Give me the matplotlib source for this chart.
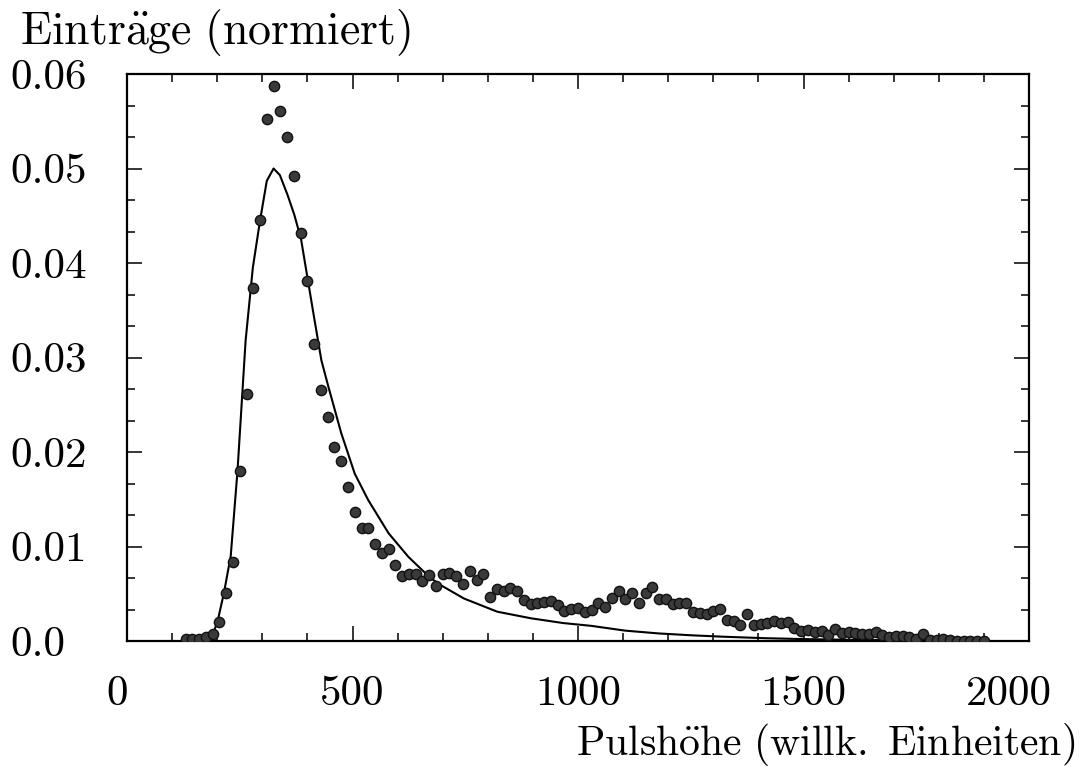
import numpy as np
import matplotlib
matplotlib.use("Agg")
import matplotlib.pyplot as plt
from matplotlib.ticker import MultipleLocator, AutoMinorLocator, FixedLocator, FixedFormatter
import matplotlib.transforms as mtransforms

plt.rcParams['mathtext.fontset'] = 'cm'
plt.rcParams['font.family'] = ['cmr10', 'DejaVu Serif']
plt.rcParams['axes.formatter.use_mathtext'] = True

# ---- data ----
# bin centres of the measured pulse height histogram (bin width 15)
pulse_x = np.arange(130, 1901, 15)
entries = [
    0.0002, 0.0002, 0.00024, 0.0004, 0.0007, 0.0020, 0.0051, 0.0084, 0.0180, 0.0261,
    0.0374, 0.0445, 0.0552, 0.0587, 0.0561, 0.0533, 0.0492, 0.0432, 0.0381, 0.0314,
    0.0266, 0.0237, 0.0205, 0.0190, 0.0163, 0.0136, 0.0120, 0.0120, 0.0103, 0.0093,
    0.0097, 0.0080, 0.0069, 0.0071, 0.0071, 0.0064, 0.0070, 0.0058, 0.0071, 0.0072,
    0.0069, 0.0060, 0.0074, 0.0065, 0.0071, 0.0047, 0.0055, 0.0053, 0.0056, 0.0053,
    0.0043, 0.0039, 0.0040, 0.0041, 0.0042, 0.0038, 0.0032, 0.0034, 0.0035, 0.0031,
    0.0033, 0.0040, 0.0036, 0.0046, 0.0053, 0.0044, 0.0051, 0.0040, 0.0051, 0.0057,
    0.0044, 0.0044, 0.0039, 0.0040, 0.0040, 0.0031, 0.0030, 0.0029, 0.0032, 0.0034,
    0.0022, 0.0021, 0.0017, 0.0029, 0.0017, 0.0018, 0.0019, 0.0021, 0.0019, 0.0020,
    0.0014, 0.0011, 0.0012, 0.0010, 0.0011, 0.0006, 0.0013, 0.0008, 0.0009, 0.0008,
    0.0007, 0.0007, 0.0010, 0.0006, 0.00045, 0.0005, 0.0005, 0.0004, 0.0002, 0.0007,
    0.0001, 0.0001, 0.0002, 0.0001, 0.00005, 0.00005, 0.00003, 0.00002, 0.00002,
]

# fitted curve
fit_x = [174, 185, 200, 215, 230, 245, 263, 279, 295, 310, 325, 339, 356, 371, 386,
         401, 415, 431, 446, 475, 505, 535, 580, 624, 672, 696, 747, 821, 896, 967,
         1030, 1104, 1179, 1253, 1324, 1413, 1502, 1614, 1725, 1904]
fit_y = [0.0, 0.0002, 0.0019, 0.0051, 0.0090, 0.0180, 0.0318, 0.0395, 0.0445, 0.0487,
         0.0500, 0.0493, 0.0472, 0.0451, 0.0425, 0.0382, 0.0342, 0.0297, 0.0270, 0.0220,
         0.0177, 0.0149, 0.0114, 0.0089, 0.0067, 0.0059, 0.0045, 0.0031, 0.0024, 0.0019,
         0.0016, 0.0011, 0.0008, 0.0006, 0.00045, 0.0003, 0.0002, 0.00012, 0.00007, 0.00003]

x_ticks = [0, 500, 1000, 1500, 2000]
x_tick_labels = ["0", "500", "1000", "1500", "2000"]
y_ticks = [0.0, 0.01, 0.02, 0.03, 0.04, 0.05, 0.06]
y_tick_labels = ["0.0", "0.01", "0.02", "0.03", "0.04", "0.05", "0.06"]

fig = plt.figure(figsize=(10.86, 7.67), dpi=100)
ax = fig.add_axes([127 / 1086, 1 - 641 / 767, (1029 - 127) / 1086, (641 - 74) / 767])

ax.plot(fit_x, fit_y, color='black', lw=1.5, zorder=2)
ax.plot(pulse_x, entries, linestyle='none', marker='o', markersize=7.4,
        markerfacecolor='#3a3a3a', markeredgecolor='#111111', markeredgewidth=1.0, zorder=3)

ax.set_xlim(0, 2000)
ax.set_ylim(0, 0.06)

ax.xaxis.set_major_locator(FixedLocator(x_ticks))
ax.xaxis.set_major_formatter(FixedFormatter(x_tick_labels))
ax.xaxis.set_minor_locator(MultipleLocator(100))
ax.yaxis.set_major_locator(FixedLocator(y_ticks))
ax.yaxis.set_major_formatter(FixedFormatter(y_tick_labels))
ax.yaxis.set_minor_locator(AutoMinorLocator(3))

for s in ax.spines.values():
    s.set_linewidth(1.6)

ax.tick_params(which='both', direction='in', top=True, right=True, width=1.1)
ax.tick_params(which='major', length=10.5)
ax.tick_params(which='minor', length=5.5)
ax.tick_params(axis='x', which='major', labelsize=31, pad=25)
ax.tick_params(axis='y', which='major', labelsize=31, pad=84)
for lab in ax.get_yticklabels():
    lab.set_horizontalalignment('left')

# small horizontal offsets of the outer x labels as in the reference
xl = ax.get_xticklabels()
xl[0].set_transform(xl[0].get_transform() + mtransforms.ScaledTranslation(-10 / 100, 0, fig.dpi_scale_trans))
xl[-1].set_transform(xl[-1].get_transform() + mtransforms.ScaledTranslation(-20 / 100, 0, fig.dpi_scale_trans))

fig.text(20 / 1086, 1 - 44 / 767, r"$\mathrm{Eintr\ddot{a}ge\ (normiert)}$", fontsize=33,
         ha='left', va='baseline')
fig.text(1075 / 1086, 1 - 755 / 767, r"$\mathrm{Pulsh\ddot{o}he\ (willk.\ Einheiten)}$", fontsize=30,
         ha='right', va='baseline')

fig.savefig("out.png", dpi=100)
